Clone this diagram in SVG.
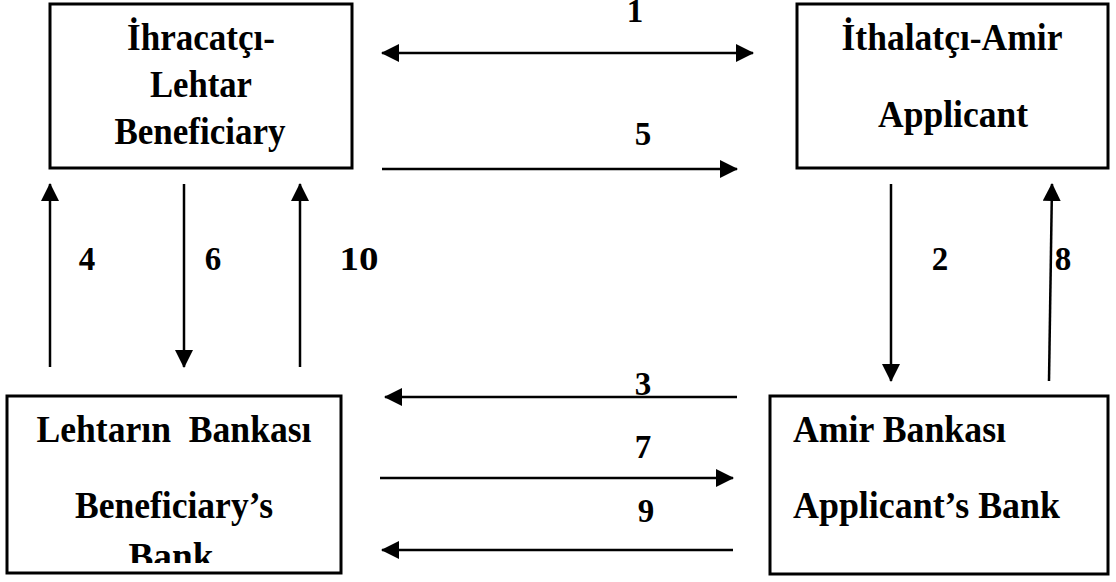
<svg xmlns="http://www.w3.org/2000/svg" width="1116" height="582" viewBox="0 0 1116 582">
<style>
.box{fill:#fff;stroke:#000;stroke-width:3}
.t{font-family:"Liberation Serif","Times New Roman",serif;font-weight:bold;font-size:38px;fill:#000}
.n{font-family:"Liberation Serif","Times New Roman",serif;font-weight:bold;font-size:33px;fill:#000;text-anchor:middle}
.c{text-anchor:middle}
.ln{stroke:#000;stroke-width:2.5;fill:none}
</style>
<defs>
<marker id="ah" markerUnits="userSpaceOnUse" markerWidth="18" markerHeight="18" viewBox="0 0 18 18" refX="17" refY="9" orient="auto-start-reverse">
<path d="M0,0 L18,9 L0,18 z" fill="#000"/>
</marker>
<clipPath id="clipBank"><rect x="0" y="396" width="400" height="167"/></clipPath>
</defs>
<rect width="1116" height="582" fill="#fff"/>
<g id="beneficiary">
<rect class="box" x="50" y="4" width="302" height="164"/>
<text class="t c" x="201" y="50" textLength="148" lengthAdjust="spacingAndGlyphs">İhracatçı-</text>
<text class="t c" x="201" y="97" textLength="102" lengthAdjust="spacingAndGlyphs">Lehtar</text>
<text class="t c" x="200" y="144" textLength="171" lengthAdjust="spacingAndGlyphs">Beneficiary</text>
</g>
<g id="applicant">
<rect class="box" x="797" y="4" width="311" height="164"/>
<text class="t c" x="952" y="50" textLength="221" lengthAdjust="spacingAndGlyphs">İthalatçı-Amir</text>
<text class="t c" x="953" y="127" textLength="150" lengthAdjust="spacingAndGlyphs">Applicant</text>
</g>
<g id="beneficiary-bank">
<rect class="box" x="7" y="396" width="334" height="177"/>
<text class="t c" x="174" y="442" textLength="275" lengthAdjust="spacingAndGlyphs" xml:space="preserve">Lehtarın  Bankası</text>
<text class="t c" x="174" y="518" textLength="198" lengthAdjust="spacingAndGlyphs">Beneficiary’s</text>
<text class="t c" x="171" y="569" textLength="85" lengthAdjust="spacingAndGlyphs" clip-path="url(#clipBank)">Bank</text>
</g>
<g id="applicant-bank">
<rect class="box" x="770" y="396" width="338" height="178"/>
<text class="t" x="793" y="442" textLength="213" lengthAdjust="spacingAndGlyphs">Amir Bankası</text>
<text class="t" x="793" y="518" textLength="267" lengthAdjust="spacingAndGlyphs">Applicant’s Bank</text>
</g>
<g id="connectors">
<line class="ln" x1="382" y1="53" x2="753" y2="53" marker-start="url(#ah)" marker-end="url(#ah)"/>
<text class="n" x="635" y="22">1</text>
<line class="ln" x1="382" y1="169" x2="737" y2="169" marker-end="url(#ah)"/>
<text class="n" x="643" y="145">5</text>
<line class="ln" x1="50" y1="367" x2="50" y2="184" marker-end="url(#ah)"/>
<text class="n" x="87" y="270">4</text>
<line class="ln" x1="184" y1="184" x2="184" y2="367" marker-end="url(#ah)"/>
<text class="n" x="213" y="270">6</text>
<line class="ln" x1="300" y1="367" x2="300" y2="184" marker-end="url(#ah)"/>
<text class="n" x="359" y="270" textLength="39" lengthAdjust="spacingAndGlyphs">10</text>
<line class="ln" x1="891" y1="184" x2="891" y2="381" marker-end="url(#ah)"/>
<text class="n" x="940" y="270">2</text>
<line class="ln" x1="1049" y1="381" x2="1052" y2="184" marker-end="url(#ah)"/>
<text class="n" x="1063" y="270">8</text>
<line class="ln" x1="737" y1="397" x2="385" y2="397" marker-end="url(#ah)"/>
<text class="n" x="643" y="395">3</text>
<line class="ln" x1="380" y1="478" x2="733" y2="478" marker-end="url(#ah)"/>
<text class="n" x="643" y="458">7</text>
<line class="ln" x1="733" y1="550" x2="382" y2="550" marker-end="url(#ah)"/>
<text class="n" x="646" y="522">9</text>
</g>
</svg>
